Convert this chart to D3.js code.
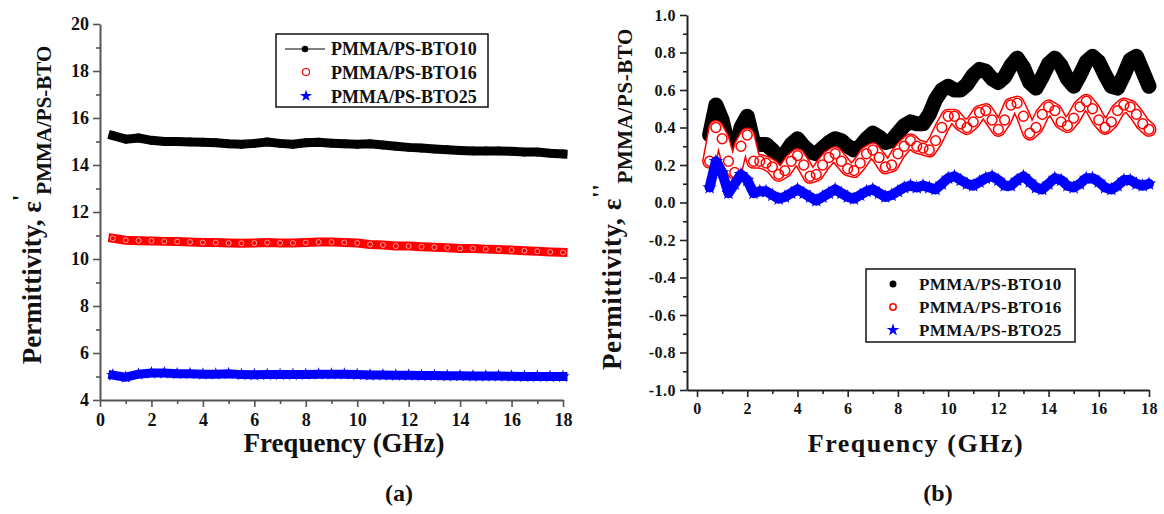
<!DOCTYPE html>
<html>
<head>
<meta charset="utf-8">
<script src="https://cdn.jsdelivr.net/npm/d3@7/dist/d3.min.js"></script>
<style>
  body { margin: 0; background: #fff; }
  text { font-family: "Liberation Serif", "Times New Roman", serif; font-weight: bold; fill: #111; }
</style>
</head>
<body>
<svg width="1164" height="514"></svg>
<script>
// series names (legend)
var seriesNames = ["PMMA/PS-BTO10", "PMMA/PS-BTO16", "PMMA/PS-BTO25"];

// panel (a): real permittivity, read every 0.5 GHz
var freqA = [0.5, 1, 1.5, 2, 2.5, 3, 3.5, 4, 4.5, 5, 5.5, 6, 6.5, 7, 7.5, 8, 8.5, 9,
  9.5, 10, 10.5, 11, 11.5, 12, 12.5, 13, 13.5, 14, 14.5, 15, 15.5, 16, 16.5, 17, 17.5, 18];
var realBTO10 = [15.25, 15.1, 15.15, 15.05, 15.0, 15.0, 14.98, 14.97, 14.95, 14.9, 14.88, 14.92,
  14.98, 14.92, 14.88, 14.95, 14.97, 14.93, 14.9, 14.88, 14.9, 14.85, 14.8, 14.75, 14.72, 14.68,
  14.65, 14.62, 14.6, 14.6, 14.6, 14.58, 14.55, 14.55, 14.5, 14.47];
var realBTO16 = [10.88, 10.8, 10.78, 10.77, 10.75, 10.74, 10.72, 10.7, 10.7, 10.68, 10.67, 10.68,
  10.7, 10.68, 10.68, 10.7, 10.72, 10.72, 10.7, 10.68, 10.62, 10.6, 10.55, 10.55, 10.52, 10.5,
  10.48, 10.45, 10.45, 10.42, 10.4, 10.38, 10.35, 10.33, 10.3, 10.28];
var realBTO25 = [5.06, 4.97, 5.1, 5.15, 5.15, 5.12, 5.12, 5.1, 5.1, 5.12, 5.08, 5.07,
  5.08, 5.08, 5.08, 5.09, 5.1, 5.1, 5.1, 5.08, 5.06, 5.06, 5.05, 5.05, 5.04, 5.04,
  5.03, 5.03, 5.02, 5.02, 5.02, 5.01, 5.0, 5.0, 5.0, 5.0];

// panel (b): imaginary permittivity, read every 0.25 GHz
var freqB = [0.5, 0.75, 1, 1.25, 1.5, 1.75, 2, 2.25, 2.5, 2.75, 3, 3.25, 3.5, 3.75, 4, 4.25,
  4.5, 4.75, 5, 5.25, 5.5, 5.75, 6, 6.25, 6.5, 6.75, 7, 7.25, 7.5, 7.75, 8, 8.25, 8.5, 8.75,
  9, 9.25, 9.5, 9.75, 10, 10.25, 10.5, 10.75, 11, 11.25, 11.5, 11.75, 12, 12.25, 12.5, 12.75,
  13, 13.25, 13.5, 13.75, 14, 14.25, 14.5, 14.75, 15, 15.25, 15.5, 15.75, 16, 16.25, 16.5,
  16.75, 17, 17.25, 17.5, 17.75, 18];
var imagBTO10 = [0.36, 0.52, 0.44, 0.30, 0.26, 0.40, 0.46, 0.32, 0.31, 0.31,
  0.28, 0.24, 0.26, 0.31, 0.34, 0.30, 0.27, 0.26, 0.29, 0.32,
  0.34, 0.33, 0.30, 0.28, 0.30, 0.34, 0.37, 0.35, 0.32, 0.33,
  0.37, 0.41, 0.43, 0.42, 0.42, 0.47, 0.55, 0.60, 0.62, 0.60,
  0.60, 0.63, 0.68, 0.71, 0.70, 0.66, 0.64, 0.67, 0.73, 0.77,
  0.72, 0.64, 0.61, 0.67, 0.74, 0.77, 0.73, 0.66, 0.62, 0.68,
  0.75, 0.78, 0.75, 0.68, 0.62, 0.61, 0.68, 0.76, 0.78, 0.70, 0.62];
var imagBTO16 = [0.22, 0.40, 0.34, 0.22, 0.16, 0.30, 0.36, 0.22, 0.22, 0.21,
  0.19, 0.15, 0.17, 0.22, 0.25, 0.20, 0.14, 0.15, 0.20, 0.24,
  0.26, 0.22, 0.18, 0.17, 0.21, 0.26, 0.28, 0.24, 0.19, 0.20,
  0.26, 0.30, 0.33, 0.30, 0.29, 0.28, 0.33, 0.40, 0.46, 0.46,
  0.42, 0.40, 0.43, 0.48, 0.49, 0.44, 0.39, 0.44, 0.52, 0.53,
  0.46, 0.37, 0.40, 0.47, 0.51, 0.49, 0.43, 0.41, 0.45, 0.51,
  0.54, 0.50, 0.44, 0.40, 0.43, 0.49, 0.52, 0.51, 0.47, 0.42, 0.39];
var imagBTO25 = [0.08, 0.22, 0.16, 0.05, 0.10, 0.15, 0.12, 0.05, 0.06, 0.06,
  0.04, 0.02, 0.03, 0.05, 0.07, 0.05, 0.03, 0.01, 0.03, 0.05,
  0.07, 0.05, 0.03, 0.02, 0.04, 0.06, 0.07, 0.05, 0.03, 0.04,
  0.06, 0.08, 0.09, 0.08, 0.09, 0.08, 0.07, 0.10, 0.13, 0.14,
  0.12, 0.10, 0.09, 0.11, 0.13, 0.14, 0.12, 0.09, 0.09, 0.12,
  0.14, 0.11, 0.08, 0.07, 0.10, 0.13, 0.12, 0.09, 0.08, 0.10,
  0.13, 0.13, 0.11, 0.08, 0.07, 0.09, 0.12, 0.12, 0.10, 0.09, 0.10];

// tick labels
var xTicks = [0, 2, 4, 6, 8, 10, 12, 14, 16, 18];
var xMinor = [1, 3, 5, 7, 9, 11, 13, 15, 17];
var yTicksA = [4, 6, 8, 10, 12, 14, 16, 18, 20];
var yMinorA = [5, 7, 9, 11, 13, 15, 17, 19];
var yTicksB = [-1.0, -0.8, -0.6, -0.4, -0.2, 0.0, 0.2, 0.4, 0.6, 0.8, 1.0];
var yMinorB = [-0.9, -0.7, -0.5, -0.3, -0.1, 0.1, 0.3, 0.5, 0.7, 0.9];

var colors = ["#000000", "#ff0000", "#0000ff"];

var svg = d3.select("svg");

function zip(xs, ys) {
  return xs.map(function (x, i) { return { f: x, v: ys[i] }; });
}

//draws a left+bottom axis pair with major and minor ticks
function drawAxes(g, x, y, yTicks, yMinor, yFmt, axisColor, fontSize) {
  var ax = g.append("g").attr("transform", "translate(0," + y.range()[0] + ")");
  ax.call(d3.axisBottom(x).tickValues(xTicks).tickSize(7).tickSizeOuter(0).tickPadding(6));
  ax.append("g").call(d3.axisBottom(x).tickValues(xMinor).tickSize(4).tickSizeOuter(0).tickFormat(""))
    .select(".domain").remove();

  var ay = g.append("g").attr("transform", "translate(" + x.range()[0] + ",0)");
  ay.call(d3.axisLeft(y).tickValues(yTicks).tickSize(7).tickSizeOuter(0).tickPadding(4).tickFormat(yFmt));
  ay.append("g").call(d3.axisLeft(y).tickValues(yMinor).tickSize(4).tickSizeOuter(0).tickFormat(""))
    .select(".domain").remove();

  g.selectAll(".domain").attr("stroke", axisColor).attr("stroke-width", 2);
  g.selectAll(".tick line").attr("stroke", axisColor).attr("stroke-width", 1.6);
  g.selectAll(".tick text").attr("font-size", fontSize)
    .attr("font-family", "Liberation Serif").attr("font-weight", "bold").attr("fill", "#111");
}

var starPath = d3.symbol().type(d3.symbolStar);

// ---------------- panel (a) ----------------
var xA = d3.scaleLinear().domain([0, 18]).range([100, 563]),
    yA = d3.scaleLinear().domain([4, 20]).range([400, 24]);
var gA = svg.append("g");
drawAxes(gA, xA, yA, yTicksA, yMinorA, d3.format("d"), "#555", 18);

var lineA = d3.line()
  .x(function (d) { return xA(d.f); })
  .y(function (d) { return yA(d.v); });

var seriesA = [realBTO10, realBTO16, realBTO25];
seriesA.forEach(function (vals, i) {
  var pts = zip(freqA, vals);
  gA.append("path").datum(pts)
    .attr("d", lineA)
    .attr("fill", "none")
    .attr("stroke", colors[i])
    .attr("stroke-width", 9)
    .attr("stroke-linejoin", "round")
    .attr("stroke-linecap", "square");
  var m = gA.append("g").selectAll("path.m").data(pts).enter().append("path")
    .attr("transform", function (d) { return "translate(" + xA(d.f) + "," + yA(d.v) + ")"; });
  if (i === 0) {
    m.attr("d", d3.symbol().type(d3.symbolCircle).size(60)).attr("fill", "#000");
  } else if (i === 1) {
    m.attr("d", d3.symbol().type(d3.symbolCircle).size(20))
      .attr("fill", "none").attr("stroke", "#ffc8c8").attr("stroke-width", 0.8);
  } else {
    m.attr("d", starPath.size(55)).attr("fill", "#0000ff");
  }
});

// legend (a)
var legA = gA.append("g");
legA.append("rect").attr("x", 276).attr("y", 34).attr("width", 212).attr("height", 73)
  .attr("fill", "#fff").attr("stroke", "#111").attr("stroke-width", 1.5);
legA.append("line").attr("x1", 285).attr("x2", 325).attr("y1", 49).attr("y2", 49)
  .attr("stroke", "#555").attr("stroke-width", 1.6);
legA.append("circle").attr("cx", 305).attr("cy", 49).attr("r", 3.3).attr("fill", "#000");
legA.append("circle").attr("cx", 306).attr("cy", 72).attr("r", 3.5)
  .attr("fill", "none").attr("stroke", "#e00").attr("stroke-width", 1.2);
legA.append("path").attr("transform", "translate(306,96)")
  .attr("d", starPath.size(45)).attr("fill", "#0000ff");
legA.selectAll("text.l").data(seriesNames).enter().append("text")
  .attr("x", 331).attr("y", function (d, i) { return 55 + i * 24; })
  .attr("font-size", 18).text(function (d) { return d; });

// axis titles (a)
var tA = svg.append("text").attr("transform", "translate(41,205) rotate(-90)")
  .attr("text-anchor", "middle").attr("font-size", 27);
tA.append("tspan").text("Permittivity, \u03b5");
tA.append("tspan").attr("font-size", 24).attr("dy", -13).text("'");
tA.append("tspan").attr("font-size", 21).attr("dy", 23).text("PMMA/PS-BTO");

svg.append("text").attr("x", 344).attr("y", 452).attr("text-anchor", "middle")
  .attr("font-size", 27).text("Frequency (GHz)");
svg.append("text").attr("x", 399).attr("y", 501).attr("text-anchor", "middle")
  .attr("font-size", 24).text("(a)");

// ---------------- panel (b) ----------------
var xB = d3.scaleLinear().domain([-0.4, 18]).range([687, 1149]),
    yB = d3.scaleLinear().domain([-1, 1]).range([390, 15]);
var gB = svg.append("g");
drawAxes(gB, xB, yB, yTicksB, yMinorB, function (d) { return d.toFixed(1); }, "#222", 16);
gB.selectAll(".tick text").attr("letter-spacing", 0.5);

var lineB = d3.line()
  .x(function (d) { return xB(d.f); })
  .y(function (d) { return yB(d.v); });

var seriesB = [imagBTO10, imagBTO16, imagBTO25];
seriesB.forEach(function (vals, i) {
  var pts = zip(freqB, vals);
  //thick underlay so the dense scatter reads as a band
  if (i !== 1) {
    gB.append("path").datum(pts).attr("d", lineB).attr("fill", "none")
      .attr("stroke", colors[i]).attr("stroke-width", i === 0 ? 15 : 10)
      .attr("stroke-linejoin", "round").attr("stroke-linecap", "round");
  } else {
    // hollow band: red outline with white core
    gB.append("path").datum(pts).attr("d", lineB).attr("fill", "none")
      .attr("stroke", "#ff0000").attr("stroke-width", 15)
      .attr("stroke-linejoin", "round").attr("stroke-linecap", "round");
    gB.append("path").datum(pts).attr("d", lineB).attr("fill", "none")
      .attr("stroke", "#fff").attr("stroke-width", 12)
      .attr("stroke-linejoin", "round").attr("stroke-linecap", "round");
  }
  var m = gB.append("g").selectAll("path.m").data(pts).enter().append("path")
    .attr("transform", function (d) { return "translate(" + xB(d.f) + "," + yB(d.v) + ")"; });
  if (i === 0) {
    m.attr("d", d3.symbol().type(d3.symbolCircle).size(110)).attr("fill", "#000");
  } else if (i === 1) {
    m.attr("d", d3.symbol().type(d3.symbolCircle).size(75))
      .attr("fill", "none").attr("stroke", "#ff0000").attr("stroke-width", 1.5);
  } else {
    m.attr("d", starPath.size(65)).attr("fill", "#0000ff");
  }
});

// legend (b)
var legB = gB.append("g");
legB.append("rect").attr("x", 866).attr("y", 269).attr("width", 209).attr("height", 73)
  .attr("fill", "#fff").attr("stroke", "#111").attr("stroke-width", 1.5);
legB.append("circle").attr("cx", 893).attr("cy", 284).attr("r", 3.5).attr("fill", "#000");
legB.append("circle").attr("cx", 893).attr("cy", 307).attr("r", 3.2)
  .attr("fill", "none").attr("stroke", "#f00").attr("stroke-width", 1.5);
legB.append("path").attr("transform", "translate(893,330)")
  .attr("d", starPath.size(50)).attr("fill", "#0000ff");
legB.selectAll("text.l").data(seriesNames).enter().append("text")
  .attr("x", 919).attr("y", function (d, i) { return 290 + i * 23; })
  .attr("font-size", 17).attr("letter-spacing", 0.4).text(function (d) { return d; });

// axis titles (b)
var tB = svg.append("text").attr("transform", "translate(621,199) rotate(-90)")
  .attr("text-anchor", "middle").attr("font-size", 27).attr("letter-spacing", 0.6);
tB.append("tspan").text("Permittivity, \u03b5");
tB.append("tspan").attr("font-size", 24).attr("dy", -13).text("''");
tB.append("tspan").attr("font-size", 21).attr("dy", 24).text("PMMA/PS-BTO");

svg.append("text").attr("x", 916).attr("y", 452).attr("text-anchor", "middle")
  .attr("font-size", 26).attr("letter-spacing", 1.5).text("Frequency (GHz)");
svg.append("text").attr("x", 938).attr("y", 501).attr("text-anchor", "middle")
  .attr("font-size", 24).text("(b)");
</script>
</body>
</html>
